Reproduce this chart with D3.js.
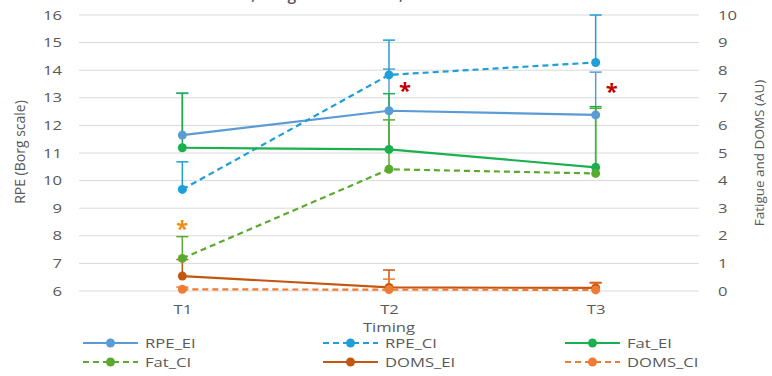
<!DOCTYPE html>
<html>
<head>
<meta charset="utf-8">
<script src="https://cdn.jsdelivr.net/npm/d3@7"></script>
<style>
  body { margin: 0; background: #fff; }
  svg { display: block; font-family: "Open Sans", sans-serif; }
</style>
</head>
<body>
<svg id="chart" width="772" height="376"></svg>
<script>
// data
const timings = ["T1", "T2", "T3"];
const leftTicks = [6, 7, 8, 9, 10, 11, 12, 13, 14, 15, 16];
const rightTicks = [0, 1, 2, 3, 4, 5, 6, 7, 8, 9, 10];

const rpeEI = [11.65, 12.53, 12.38];
const rpeEIErr = [1.51, 1.51, 1.55];
const rpeCI = [9.68, 13.83, 14.28];
const rpeCIErr = [1.0, 1.26, 1.72];
const fatEI = [5.19, 5.13, 4.48];
const fatEIErr = [1.98, 2.02, 2.2];
const fatCI = [1.18, 4.41, 4.26];
const fatCIErr = [0.79, 1.79, 2.36];
const domsEI = [0.54, 0.13, 0.11];
const domsEIErr = [0.6, 0.63, 0.2];
const domsCI = [0.06, 0.05, 0.04];
const domsCIErr = [0.08, 0.38, 0.24];

// significance marks: [timing, value on left axis, colour]
const stars = [["T1", 8.5, "#f08c1a"], ["T2", 13.5, "#c00000"], ["T3", 13.48, "#c00000"]];
const starOffset = [0, 16, 16];

const series = [
  { name: "RPE_EI", vals: rpeEI, err: rpeEIErr, axis: "L", color: "#5b9bd5", dash: null },
  { name: "RPE_CI", vals: rpeCI, err: rpeCIErr, axis: "L", color: "#1f9fd8", dash: "6,4" },
  { name: "Fat_EI", vals: fatEI, err: fatEIErr, axis: "R", color: "#1bb04f", dash: null },
  { name: "Fat_CI", vals: fatCI, err: fatCIErr, axis: "R", color: "#5aaa30", dash: "6,4" },
  { name: "DOMS_EI", vals: domsEI, err: domsEIErr, axis: "R", color: "#c5560f", dash: null },
  { name: "DOMS_CI", vals: domsCI, err: domsCIErr, axis: "R", color: "#ef7c34", dash: "6,4" }
];

const grey = "#595959";
const sx = 1.28; // labels in the picture look stretched sideways

const svg = d3.select("#chart");

const x = d3.scalePoint().domain(timings).range([79, 699]).padding(0.5);
const yL = d3.scaleLinear().domain([6, 16]).range([291, 15]);
const yR = d3.scaleLinear().domain([0, 10]).range([291, 15]);

// title, mostly cut off at the top edge
svg.append("text")
  .attr("x", 395).attr("y", 0)
  .attr("text-anchor", "middle")
  .attr("textLength", 344).attr("lengthAdjust", "spacingAndGlyphs")
  .attr("font-size", 17).attr("font-weight", 600).attr("fill", grey)
  .text("RPE, Fatigue and DOMS, in EI and CI over time");

// grid
svg.append("g").selectAll("line")
  .data(leftTicks)
  .join("line")
  .attr("x1", 79).attr("x2", 699)
  .attr("y1", d => yL(d)).attr("y2", d => yL(d))
  .attr("stroke", "#d9d9d9").attr("stroke-width", 1);

// axes
const axL = svg.append("g").attr("transform", "translate(79,0)")
  .call(d3.axisLeft(yL).tickValues(leftTicks).tickSize(0).tickPadding(17));
axL.select(".domain").remove();
axL.selectAll("text")
  .attr("font-size", 13).attr("font-family", "Open Sans").attr("fill", grey)
  .attr("x", -17 / sx).attr("transform", `scale(${sx},1)`);

const axR = svg.append("g").attr("transform", "translate(699,0)")
  .call(d3.axisRight(yR).tickValues(rightTicks).tickSize(0).tickPadding(19));
axR.select(".domain").remove();
axR.selectAll("text")
  .attr("font-size", 13).attr("font-family", "Open Sans").attr("fill", grey)
  .attr("x", 19 / sx).attr("transform", `scale(${sx},1)`);

const axB = svg.append("g").attr("transform", "translate(0,291)")
  .call(d3.axisBottom(x).tickSize(0).tickPadding(14));
axB.select(".domain").remove();
axB.selectAll("text")
  .attr("font-size", 13).attr("font-family", "Open Sans").attr("fill", grey)
  .attr("transform", `scale(${sx},1)`)
  .attr("x", 0);

// axis titles
svg.append("text")
  .attr("transform", `translate(389,332) scale(${sx},1)`)
  .attr("text-anchor", "middle").attr("font-size", 13).attr("fill", grey)
  .text("Timing");

svg.append("text")
  .attr("transform", "translate(25,152) rotate(-90)")
  .attr("text-anchor", "middle").attr("font-size", 14).attr("fill", grey)
  .text("RPE (Borg scale)");

svg.append("text")
  .attr("transform", "translate(764,153) rotate(-90)")
  .attr("text-anchor", "middle").attr("font-size", 13.5).attr("fill", grey)
  .text("Fatigue and DOMS (AU)");

// series: error bars (upper only), lines, markers
const plot = svg.append("g");
series.forEach(s => {
  const y = s.axis === "L" ? yL : yR;
  const pts = timings.map((t, i) => ({ t, v: s.vals[i], e: s.err[i] }));
  const g = plot.append("g");

  const eb = g.selectAll("g.eb").data(pts).join("g").attr("class", "eb");
  eb.append("line")
    .attr("x1", d => x(d.t)).attr("x2", d => x(d.t))
    .attr("y1", d => y(d.v)).attr("y2", d => y(d.v + d.e))
    .attr("stroke", s.color).attr("stroke-width", 1.5);
  eb.append("line")
    .attr("x1", d => x(d.t) - 6).attr("x2", d => x(d.t) + 6)
    .attr("y1", d => y(d.v + d.e)).attr("y2", d => y(d.v + d.e))
    .attr("stroke", s.color).attr("stroke-width", 1.5);
});

series.forEach(s => {
  const y = s.axis === "L" ? yL : yR;
  const pts = timings.map((t, i) => ({ t, v: s.vals[i] }));
  const g = plot.append("g");
  g.append("path")
    .datum(pts)
    .attr("fill", "none")
    .attr("stroke", s.color).attr("stroke-width", 2.2)
    .attr("stroke-dasharray", s.dash)
    .attr("d", d3.line().x(d => x(d.t)).y(d => y(d.v)));
  g.selectAll("circle").data(pts).join("circle")
    .attr("cx", d => x(d.t)).attr("cy", d => y(d.v)).attr("r", 4.5)
    .attr("fill", s.color);
});

// asterisks
svg.append("g").selectAll("text")
  .data(stars)
  .join("text")
  .attr("x", (d, i) => x(d[0]) + starOffset[i])
  .attr("y", d => yL(d[1]) + 14)
  .attr("text-anchor", "middle")
  .attr("font-size", 22).attr("font-weight", 700)
  .attr("fill", d => d[2])
  .text("*");

// legend
const legX = [83, 323, 565];
const legY = [343, 362];
const leg = svg.append("g").selectAll("g")
  .data(series)
  .join("g")
  .attr("transform", (d, i) => `translate(${legX[i % 3]},${legY[Math.floor(i / 3)]})`);
leg.append("line")
  .attr("x1", 0).attr("x2", 55).attr("y1", 0).attr("y2", 0)
  .attr("stroke", d => d.color).attr("stroke-width", 2.2)
  .attr("stroke-dasharray", d => d.dash);
leg.append("circle")
  .attr("cx", 27.5).attr("cy", 0).attr("r", 4.5)
  .attr("fill", d => d.color);
leg.append("text")
  .attr("transform", `translate(62,0) scale(${sx},1)`)
  .attr("dy", "0.35em").attr("font-size", 13).attr("fill", grey)
  .text(d => d.name);
</script>
</body>
</html>
